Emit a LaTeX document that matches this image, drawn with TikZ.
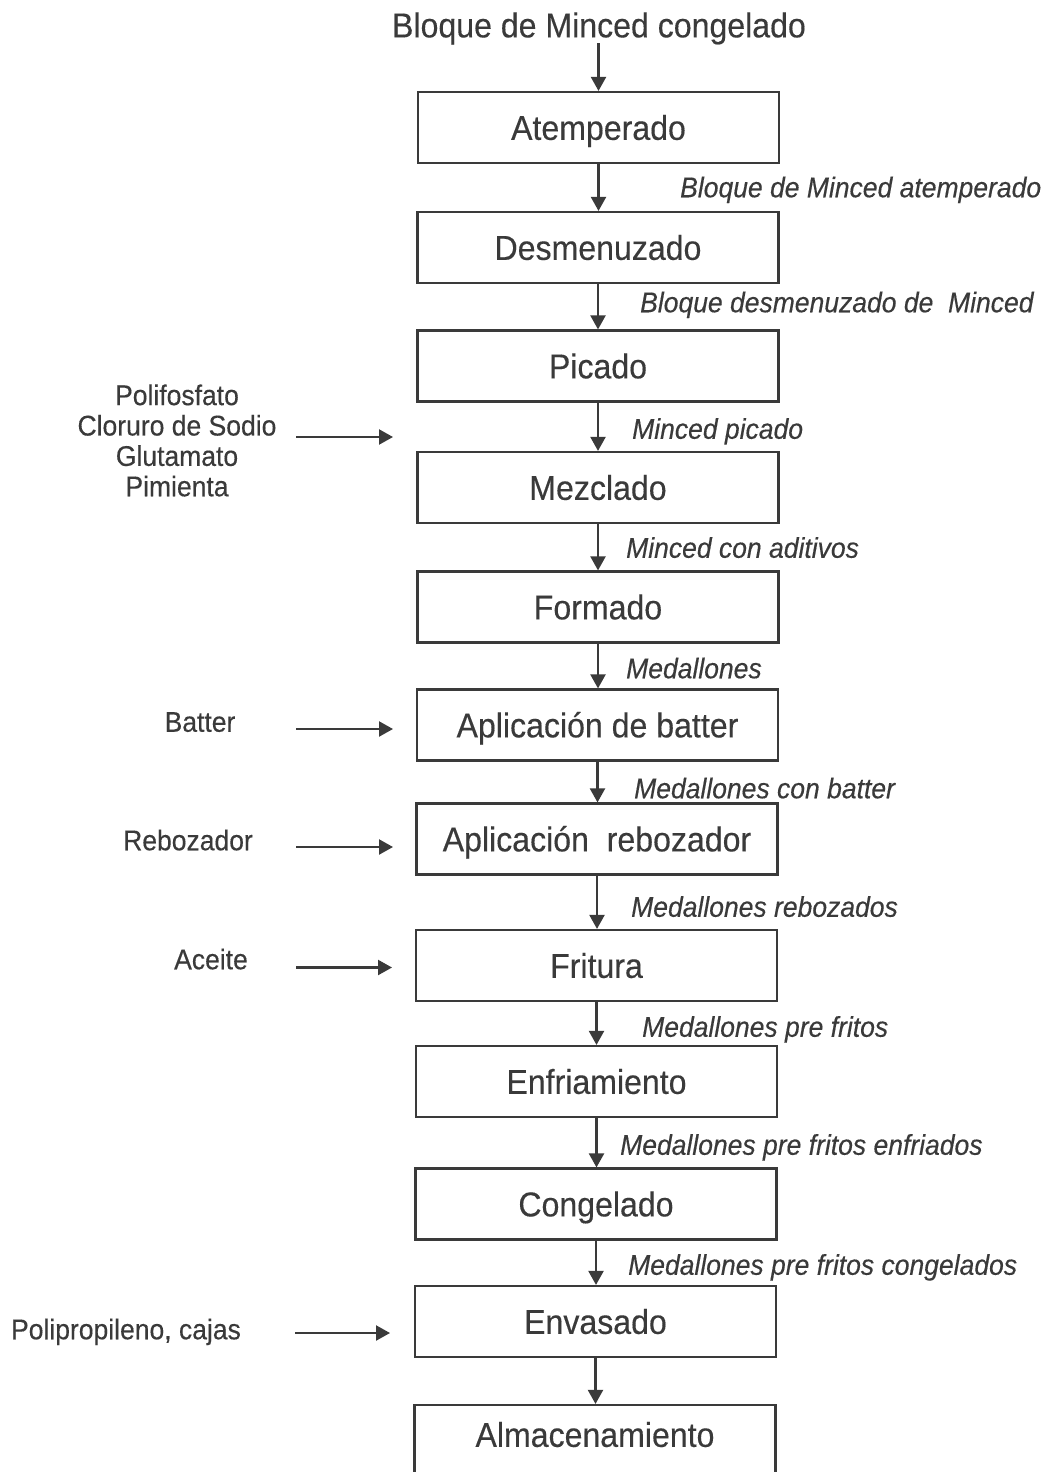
\documentclass[tikz,border=0pt]{standalone}
\usepackage{fontspec}
\setmainfont{Liberation Sans}[FakeStretch=0.93, FakeBold=0.3]
\usetikzlibrary{arrows.meta}
\definecolor{ink}{HTML}{3A3A3A}
\begin{document}
\begin{tikzpicture}[x=1pt,y=-1pt,
  box/.style={draw=ink, line width=2.2pt, minimum width=361pt, minimum height=71pt,
    inner sep=0pt, text height=24.7pt, text depth=0pt,
    font=\fontsize{34.5}{40}\selectfont, text=ink},
  title/.style={inner sep=0pt, text height=24.7pt, text depth=0pt,
    font=\fontsize{34.5}{40}\selectfont, text=ink},
  lab/.style={anchor=west, inner sep=0pt, text height=20.5pt, text depth=0pt,
    font=\fontsize{28.5}{34}\selectfont\itshape, text=ink},
  inp/.style={inner sep=0pt, align=center, font=\fontsize{28.5}{30.4}\selectfont, text=ink},
  arr/.style={draw=ink, line width=2.2pt, -{Triangle[length=14pt,width=15pt]}}
]
\clip (0,0) rectangle (1048,1472);
\fill[white] (0,0) rectangle (1048,1472);

\node[title] (t0) at (599,25) {Bloque de Minced congelado};

\node[box] (n1) at (598.5,127.5) {Atemperado};
\node[box] (n2) at (598,247.5) {Desmenuzado};
\node[box] (n3) at (598,366) {Picado};
\node[box] (n4) at (598,487.5) {Mezclado};
\node[box] (n5) at (598,607) {Formado};
\node[box] (n6) at (597.5,725) {Aplicación de batter};
\node[box] (n7) at (597,839) {Aplicación\ \ rebozador};
\node[box] (n8) at (596.5,965.5) {Fritura};
\node[box] (n9) at (596.5,1081.5) {Enfriamiento};
\node[box] (n10) at (596,1204) {Congelado};
\node[box] (n11) at (595.5,1321.5) {Envasado};
\node[box] (n12) at (595,1440.5) {\raisebox{6pt}{Almacenamiento}};

\draw[arr, shorten <=5.5pt] (t0.south -| n1.north) -- (n1.north);
\foreach \a/\b in {n1/n2,n2/n3,n3/n4,n4/n5,n5/n6,n6/n7,n7/n8,n8/n9,n9/n10,n10/n11,n11/n12}
  \draw[arr] (\a.south) -- (\a.south |- \b.north);

\node[lab] (l1) at (680,187) {Bloque de Minced atemperado};
\node[lab] (l2) at (640,302) {Bloque desmenuzado de\ \ Minced};
\node[lab] (l3) at (632,428.5) {Minced picado};
\node[lab] (l4) at (626,547.5) {Minced con aditivos};
\node[lab] (l5) at (626,668) {Medallones};
\node[lab] (l6) at (634,788) {Medallones con batter};
\node[lab] (l7) at (631,906.5) {Medallones rebozados};
\node[lab] (l8) at (642,1026.5) {Medallones pre fritos};
\node[lab] (l9) at (620,1144.5) {Medallones pre fritos enfriados};
\node[lab] (l10) at (628,1264.5) {Medallones pre fritos congelados};

\node[inp] (i1) at (177,440.5) {Polifosfato\\Cloruro de Sodio\\Glutamato\\Pimienta};
\node[inp, text height=20.5pt, text depth=0pt] (i2) at (200,721.5) {Batter};
\node[inp, text height=20.5pt, text depth=0pt] (i3) at (188,840) {Rebozador};
\node[inp, text height=20.5pt, text depth=0pt] (i4) at (211,959) {Aceite};
\node[inp, text height=20.5pt, text depth=0pt] (i5) at (126,1329) {Polipropileno, cajas};

\coordinate (s1) at (296,437);  \coordinate (e1) at (393,437);
\coordinate (s2) at (296,729);  \coordinate (e2) at (393,729);
\coordinate (s3) at (296,847);  \coordinate (e3) at (393,847);
\coordinate (s4) at (296,967.5);\coordinate (e4) at (392,967.5);
\coordinate (s5) at (295,1333); \coordinate (e5) at (390,1333);
\foreach \i in {1,...,5} \draw[arr] (s\i) -- (e\i);
\end{tikzpicture}
\end{document}
